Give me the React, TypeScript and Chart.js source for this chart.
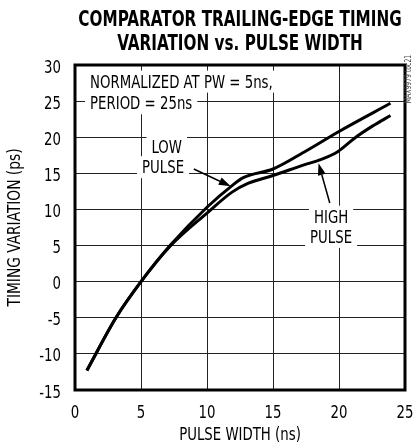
import React, { useEffect, useRef } from "react";
import { Chart, registerables } from "chart.js";

Chart.register(...registerables);

const FONT = '"DejaVu Sans Condensed", "DejaVu Sans", sans-serif';

// ---- data ----
const titleLines = ["COMPARATOR TRAILING-EDGE TIMING", "VARIATION vs. PULSE WIDTH"];
const xAxisTitle = "PULSE WIDTH (ns)";
const yAxisTitle = "TIMING VARIATION (ps)";
const xTickValues = [0, 5, 10, 15, 20, 25];
const yTickValues = [-15, -10, -5, 0, 5, 10, 15, 20, 25, 30];

const lowPulseX = [0.9, 3.1, 5, 7.2, 10, 11.9, 12.75, 15, 17.5, 20, 23.9];
const lowPulseY = [-12.3, -5, 0, 5.0, 10.3, 13.3, 14.4, 15.6, 18.1, 20.8, 24.7];

const highPulseX = [0.9, 3.1, 5, 7.2, 10, 11.9, 13.1, 15, 17.4, 18.6, 19.9, 21.2, 22.5, 23.9];
const highPulseY = [-12.3, -5, 0, 4.9, 9.5, 12.4, 13.6, 14.7, 16.2, 16.9, 18.0, 19.9, 21.5, 23.0];

const noteLines = ["NORMALIZED AT PW = 5ns,", "PERIOD = 25ns"];
const lowLabelLines = ["LOW", "PULSE"];
const highLabelLines = ["HIGH", "PULSE"];
const sideCode = "MAX9979 toc21";

// ---- annotation placement (data units) ----
const noteAt = { x: 1.14, y1: 27.7, y2: 24.7 };
const lowAt = { x1: 6.95, y1: 18.7, x2: 6.67, y2: 15.85 };
const lowArrow = { fx: 9.0, fy: 15.6, tx: 11.8, ty: 13.2 };
const highAt = { x: 19.4, y1: 9.0, y2: 6.2 };
const highArrow = { fx: 19.3, fy: 10.9, tx: 18.45, ty: 16.4 };

const SQ = 0.87; // horizontal squeeze to mimic a condensed face

type TextItem = { text: string; x: number; y: number; align: "left" | "center" };

const textItems = (): TextItem[] => [
  { text: noteLines[0], x: noteAt.x, y: noteAt.y1, align: "left" },
  { text: noteLines[1], x: noteAt.x, y: noteAt.y2, align: "left" },
  { text: lowLabelLines[0], x: lowAt.x1, y: lowAt.y1, align: "center" },
  { text: lowLabelLines[1], x: lowAt.x2, y: lowAt.y2, align: "center" },
  { text: highLabelLines[0], x: highAt.x, y: highAt.y1, align: "center" },
  { text: highLabelLines[1], x: highAt.x, y: highAt.y2, align: "center" },
];

function sqText(
  ctx: CanvasRenderingContext2D,
  text: string,
  x: number,
  y: number,
  font: string,
  squeeze: number,
  align: CanvasTextAlign
) {
  ctx.font = font;
  ctx.textAlign = align;
  const w = ctx.measureText(text).width * squeeze;
  ctx.fillText(text, x, y, w);
  return w;
}

function drawArrow(ctx: CanvasRenderingContext2D, x1: number, y1: number, x2: number, y2: number) {
  const ang = Math.atan2(y2 - y1, x2 - x1);
  const len = 12;
  const half = 4;
  const bx = x2 - len * Math.cos(ang);
  const by = y2 - len * Math.sin(ang);
  ctx.beginPath();
  ctx.moveTo(x1, y1);
  ctx.lineTo(bx, by);
  ctx.lineWidth = 1.5;
  ctx.strokeStyle = "#000";
  ctx.stroke();
  ctx.beginPath();
  ctx.moveTo(x2, y2);
  ctx.lineTo(bx + half * Math.sin(ang), by - half * Math.cos(ang));
  ctx.lineTo(bx - half * Math.sin(ang), by + half * Math.cos(ang));
  ctx.closePath();
  ctx.fillStyle = "#000";
  ctx.fill();
}

const REG = `17px ${FONT}`;

const annotPlugin = {
  id: "annot",
  beforeDatasetsDraw(chart: any) {
    const { ctx, scales } = chart;
    const xs = scales.x;
    const ys = scales.y;
    ctx.save();
    ctx.font = REG;
    ctx.fillStyle = "#fff";
    textItems().forEach((t) => {
      const w = ctx.measureText(t.text).width * SQ;
      const px = xs.getPixelForValue(t.x);
      const py = ys.getPixelForValue(t.y);
      const left = t.align === "left" ? px : px - w / 2;
      ctx.fillRect(left - 5, py - 11, w + 10, 22);
    });
    ctx.restore();
  },
  afterDatasetsDraw(chart: any) {
    const { ctx, scales, chartArea } = chart;
    const xs = scales.x;
    const ys = scales.y;
    ctx.save();
    ctx.fillStyle = "#000";
    ctx.textBaseline = "alphabetic";
    textItems().forEach((t) => {
      sqText(ctx, t.text, xs.getPixelForValue(t.x), ys.getPixelForValue(t.y) + 6.2, REG, SQ, t.align);
    });
    drawArrow(
      ctx,
      xs.getPixelForValue(lowArrow.fx),
      ys.getPixelForValue(lowArrow.fy),
      xs.getPixelForValue(lowArrow.tx),
      ys.getPixelForValue(lowArrow.ty)
    );
    drawArrow(
      ctx,
      xs.getPixelForValue(highArrow.fx),
      ys.getPixelForValue(highArrow.fy),
      xs.getPixelForValue(highArrow.tx),
      ys.getPixelForValue(highArrow.ty)
    );
    // frame
    ctx.lineWidth = 3;
    ctx.strokeStyle = "#000";
    ctx.strokeRect(chartArea.left, chartArea.top, chartArea.right - chartArea.left, chartArea.bottom - chartArea.top);
    ctx.restore();
  },
  afterDraw(chart: any) {
    const { ctx, scales, chartArea } = chart;
    const xs = scales.x;
    const ys = scales.y;
    const cx = (chartArea.left + chartArea.right) / 2;
    const cy = (chartArea.top + chartArea.bottom) / 2;
    ctx.save();
    ctx.fillStyle = "#000";
    ctx.textBaseline = "alphabetic";
    // title
    const TB = `bold 22px ${FONT}`;
    sqText(ctx, titleLines[0], cx, chartArea.top - 39, TB, 0.77, "center");
    sqText(ctx, titleLines[1], cx, chartArea.top - 15, TB, 0.77, "center");
    // x ticks
    xTickValues.forEach((v) => {
      sqText(ctx, String(v), xs.getPixelForValue(v), chartArea.bottom + 27.5, REG, SQ, "center");
    });
    // y ticks
    yTickValues.forEach((v) => {
      sqText(ctx, String(v), chartArea.left - 14, ys.getPixelForValue(v) + 7.5, REG, SQ, "right");
    });
    // x title
    sqText(ctx, xAxisTitle, cx, chartArea.bottom + 50, REG, SQ, "center");
    // y title
    ctx.save();
    ctx.translate(chartArea.left - 55, cy);
    ctx.rotate(-Math.PI / 2);
    sqText(ctx, yAxisTitle, 0, 0, REG, 0.9, "center");
    ctx.restore();
    // side code
    ctx.save();
    ctx.translate(chartArea.right + 4, chartArea.top + 14);
    ctx.rotate(-Math.PI / 2);
    ctx.fillStyle = "#444";
    ctx.textBaseline = "middle";
    sqText(ctx, sideCode, 0, 0, `8.5px ${FONT}`, 0.8, "center");
    ctx.restore();
    ctx.restore();
  },
};

export default function App() {
  const ref = useRef<HTMLCanvasElement | null>(null);

  useEffect(() => {
    if (!ref.current) return;
    const chart = new Chart(ref.current, {
      type: "line",
      data: {
        datasets: [
          {
            label: "LOW PULSE",
            data: lowPulseX.map((x, i) => ({ x, y: lowPulseY[i] })),
            borderColor: "#000",
            borderWidth: 3,
            pointRadius: 0,
            cubicInterpolationMode: "monotone",
            fill: false,
          },
          {
            label: "HIGH PULSE",
            data: highPulseX.map((x, i) => ({ x, y: highPulseY[i] })),
            borderColor: "#000",
            borderWidth: 3,
            pointRadius: 0,
            cubicInterpolationMode: "monotone",
            fill: false,
          },
        ],
      },
      options: {
        animation: false,
        responsive: false,
        events: [],
        layout: { padding: { left: 0, right: 9, top: 65, bottom: 0 } },
        plugins: {
          legend: { display: false },
          tooltip: { enabled: false },
          title: { display: false },
        },
        scales: {
          x: {
            type: "linear",
            min: 0,
            max: 25,
            afterBuildTicks: (s: any) => {
              s.ticks = xTickValues.map((v) => ({ value: v }));
            },
            afterFit: (s: any) => {
              s.height = 55;
              s.paddingLeft = 0;
              s.paddingRight = 0;
            },
            ticks: { display: false },
            grid: { color: "#222", lineWidth: 1, drawTicks: false },
            border: { display: false },
            title: { display: false },
          },
          y: {
            type: "linear",
            min: -15,
            max: 30,
            afterBuildTicks: (s: any) => {
              s.ticks = yTickValues.map((v) => ({ value: v }));
            },
            afterFit: (s: any) => {
              s.width = 75;
              s.paddingTop = 0;
              s.paddingBottom = 0;
            },
            ticks: { display: false },
            grid: { color: "#222", lineWidth: 1, drawTicks: false },
            border: { display: false },
            title: { display: false },
          },
        },
      },
      plugins: [annotPlugin],
    } as any);
    return () => chart.destroy();
  }, []);

  return (
    <div style={{ position: "absolute", left: 0, top: 0, width: 414, height: 445, background: "#fff" }}>
      <canvas ref={ref} width={414} height={445} style={{ display: "block" }} />
    </div>
  );
}
